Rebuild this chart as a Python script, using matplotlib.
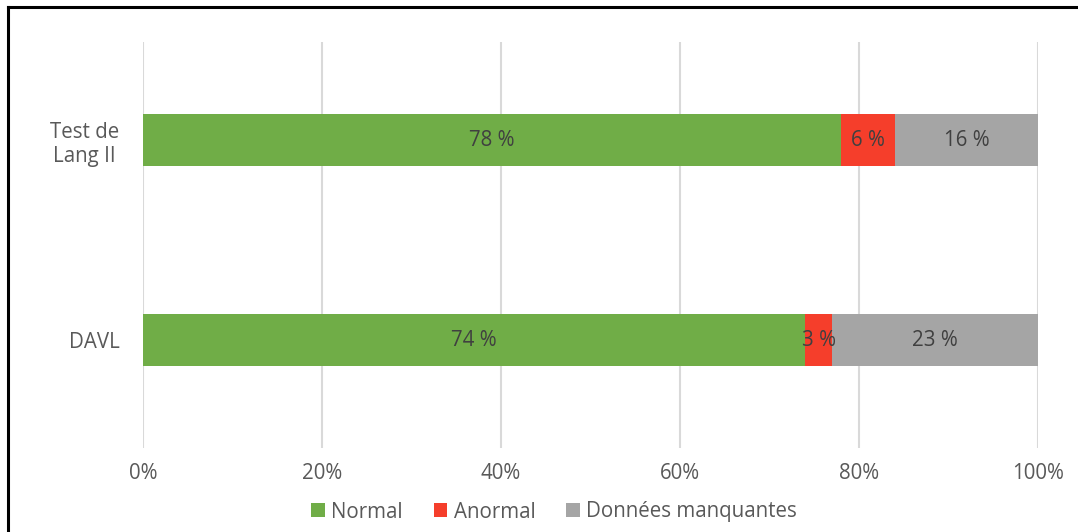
import matplotlib
matplotlib.use("Agg")
import matplotlib.pyplot as plt
from matplotlib.lines import Line2D
from matplotlib.ticker import FuncFormatter

categories = ["DAVL", "Test de\nLang II"]
series_names = ["Normal", "Anormal", "Données manquantes"]
normal = [74, 78]
anormal = [3, 6]
manquantes = [23, 16]
series_values = [normal, anormal, manquantes]
colors = ["#70AD47", "#F53E2B", "#A5A5A5"]
xticks = [0, 20, 40, 60, 80, 100]

plt.rcParams["font.family"] = ["Open Sans", "DejaVu Sans"]
text_color = "#595959"
fs = 14.8

fig = plt.figure(figsize=(10.78, 5.32), dpi=100)
ax = fig.add_axes([143 / 1078, 1 - 448 / 532, 895 / 1078, 406 / 532])

ypos = list(range(len(categories)))
left = [0] * len(categories)
handles = []
for name, vals, col in zip(series_names, series_values, colors):
    bars = ax.barh(ypos, vals, left=left, height=0.26, color=col, label=name, zorder=3)
    handles.append(bars)
    for y, l, v in zip(ypos, left, vals):
        ax.text(l + v / 2, y, f"{v} %", ha="center", va="center",
                fontsize=fs, color="#404040", zorder=4)
    left = [a + b for a, b in zip(left, vals)]

ax.set_xlim(0, 100)
ax.set_ylim(-0.54, 1.49)
ax.set_xticks(xticks)
ax.xaxis.set_major_formatter(FuncFormatter(lambda v, p: f"{int(v)}%"))
ax.set_yticks(ypos)
ax.set_yticklabels(categories, multialignment="center")
ax.tick_params(axis="both", length=0, labelsize=fs, labelcolor=text_color)
ax.tick_params(axis="x", pad=11)
ax.tick_params(axis="y", pad=17)
ax.grid(axis="x", color="#D9D9D9", linewidth=1.5, zorder=0)
for s in ax.spines.values():
    s.set_visible(False)

leg = fig.legend(handles=handles, labels=series_names, loc="center",
                 bbox_to_anchor=(554 / 1078, 1 - 512 / 532), ncol=3, frameon=False,
                 fontsize=fs, handlelength=0.67, handleheight=0.67,
                 handletextpad=0.3, columnspacing=1.5)
for t in leg.get_texts():
    t.set_color(text_color)

# frame along top and left edges
fig.add_artist(Line2D([8 / 1078, 1], [1 - 7 / 532, 1 - 7 / 532], color="black", linewidth=2.2))
fig.add_artist(Line2D([8 / 1078, 8 / 1078], [0, 1 - 7 / 532], color="black", linewidth=2.2))

fig.savefig("out.png", dpi=100)
